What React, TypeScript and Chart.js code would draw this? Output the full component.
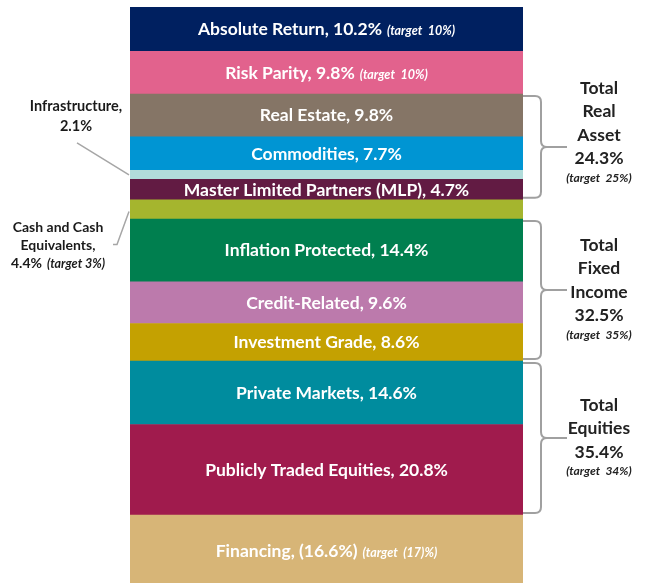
import React, { useEffect, useRef } from "react";
import { Chart, registerables } from "chart.js";

Chart.register(...registerables);

// Top-to-bottom order, as in the picture
const categories = [
  "Absolute Return",
  "Risk Parity",
  "Real Estate",
  "Commodities",
  "Infrastructure",
  "Master Limited Partners (MLP)",
  "Cash and Cash Equivalents",
  "Inflation Protected",
  "Credit-Related",
  "Investment Grade",
  "Private Markets",
  "Publicly Traded Equities",
  "Financing",
];
const allocations = [10.2, 9.8, 9.8, 7.7, 2.1, 4.7, 4.4, 14.4, 9.6, 8.6, 14.6, 20.8, -16.6];
const targets = ["10%", "10%", "", "", "", "", "3%", "", "", "", "", "", "(17)%"];
const colors = [
  "#002060",
  "#E2628D",
  "#857566",
  "#0095D3",
  "#B1DCDA",
  "#621B43",
  "#A5B52E",
  "#007F4F",
  "#BC7AAC",
  "#C4A101",
  "#008C9E",
  "#A01B4D",
  "#D7B577",
];

const outsideCategories = ["Infrastructure", "Cash and Cash Equivalents"];
const outsideNameLines = [["Infrastructure,"], ["Cash and Cash", "Equivalents,"]];

const groupNameLines = [
  ["Total", "Real", "Asset"],
  ["Total", "Fixed", "Income"],
  ["Total", "Equities"],
];
const groupTotals = ["24.3%", "32.5%", "35.4%"];
const groupTargets = ["25%", "35%", "34%"];
const groupFirst = ["Real Estate", "Inflation Protected", "Private Markets"];
const groupLast = ["Master Limited Partners (MLP)", "Investment Grade", "Publicly Traded Equities"];

const yMin = -15.6;
const yMax = 116.7;

const FONT = "Lato, 'Open Sans', sans-serif";

function fmtValue(v: number) {
  return v < 0 ? `(${Math.abs(v).toFixed(1)}%)` : `${v.toFixed(1)}%`;
}

function barPixels(chart: any, name: string) {
  const dsIndex = chart.data.datasets.findIndex((d: any) => d.label === name);
  const el: any = chart.getDatasetMeta(dsIndex).data[0];
  const p = el.getProps(["x", "y", "base", "width"], true);
  const top = Math.min(p.y, p.base);
  const bottom = Math.max(p.y, p.base);
  return { left: p.x - p.width / 2, right: p.x + p.width / 2, cx: p.x, top, bottom, cy: (top + bottom) / 2 };
}

function drawMixed(ctx: CanvasRenderingContext2D, main: string, tgt: string, cx: number, cy: number, mainFont: string, tgtFont: string, color: string) {
  ctx.fillStyle = color;
  ctx.textBaseline = "alphabetic";
  ctx.font = mainFont;
  const w1 = ctx.measureText(main).width;
  let w2 = 0;
  const gap = tgt ? 5 : 0;
  if (tgt) {
    ctx.font = tgtFont;
    w2 = ctx.measureText(tgt).width;
  }
  const start = cx - (w1 + gap + w2) / 2;
  ctx.textAlign = "left";
  ctx.font = mainFont;
  const base = cy + 6;
  ctx.fillText(main, start, base);
  if (tgt) {
    ctx.font = tgtFont;
    ctx.fillText(tgt, start + w1 + gap, base);
  }
}

const labelPlugin = {
  id: "allocationLabels",
  afterDatasetsDraw(chart: any) {
    const ctx: CanvasRenderingContext2D = chart.ctx;
    ctx.save();
    const mainFont = `bold 17.5px ${FONT}`;
    const tgtFont = `italic bold 12.5px ${FONT}`;

    // in-bar labels
    categories.forEach((name, i) => {
      if (outsideCategories.includes(name)) return;
      const b = barPixels(chart, name);
      const t = targets[i] ? `(target  ${targets[i]})` : "";
      drawMixed(ctx, `${name}, ${fmtValue(allocations[i])}`, t, b.cx, b.cy, mainFont, tgtFont, "#ffffff");
    });

    // outside labels with leader lines
    const textColor = "#1a1a1a";
    const lineColor = "#a6a6a6";
    {
      const i = categories.indexOf("Infrastructure");
      const b = barPixels(chart, "Infrastructure");
      const tx = b.left - 54;
      ctx.font = `bold 14.5px ${FONT}`;
      ctx.fillStyle = textColor;
      ctx.textAlign = "center";
      ctx.textBaseline = "middle";
      ctx.fillText(outsideNameLines[0][0], tx, b.cy - 69);
      ctx.fillText(fmtValue(allocations[i]), tx, b.cy - 49);
      ctx.strokeStyle = lineColor;
      ctx.lineWidth = 1.5;
      ctx.beginPath();
      ctx.moveTo(tx + 1, b.cy - 32);
      ctx.lineTo(b.left - 1, b.cy);
      ctx.stroke();
    }
    {
      const i = categories.indexOf("Cash and Cash Equivalents");
      const b = barPixels(chart, "Cash and Cash Equivalents");
      const tx = b.left - 72;
      ctx.font = `bold 14px ${FONT}`;
      ctx.fillStyle = textColor;
      ctx.textAlign = "center";
      ctx.textBaseline = "middle";
      ctx.fillText(outsideNameLines[1][0], tx, b.cy + 18);
      ctx.fillText(outsideNameLines[1][1], tx, b.cy + 36);
      drawMixed(ctx, fmtValue(allocations[i]), `(target ${targets[i]})`, tx, b.cy + 53, `bold 14px ${FONT}`, `italic bold 12.5px ${FONT}`, textColor);
      ctx.strokeStyle = lineColor;
      ctx.lineWidth = 1.5;
      ctx.beginPath();
      ctx.moveTo(b.left - 17, b.cy + 35);
      ctx.lineTo(b.left - 13, b.cy + 35);
      ctx.lineTo(b.left - 1, b.cy + 2);
      ctx.stroke();
    }

    // group brackets
    groupNameLines.forEach((lines, g) => {
      const a = barPixels(chart, groupFirst[g]);
      const z = barPixels(chart, groupLast[g]);
      const x0 = a.right;
      const top = a.top + 2;
      const bottom = z.bottom - 2;
      const mid = (top + bottom) / 2;
      const xv = x0 + 18;
      const r = 6;
      const tip = x0 + 44;
      ctx.strokeStyle = "#a0a0a0";
      ctx.lineWidth = 2;
      ctx.beginPath();
      ctx.moveTo(x0, top);
      ctx.lineTo(xv - r, top);
      ctx.quadraticCurveTo(xv, top, xv, top + r);
      ctx.lineTo(xv, mid - r);
      ctx.quadraticCurveTo(xv, mid, xv + r, mid);
      ctx.lineTo(tip, mid);
      ctx.moveTo(xv + r, mid);
      ctx.quadraticCurveTo(xv, mid, xv, mid + r);
      ctx.lineTo(xv, bottom - r);
      ctx.quadraticCurveTo(xv, bottom, xv - r, bottom);
      ctx.lineTo(x0, bottom);
      ctx.stroke();

      const allLines = [...lines, groupTotals[g]];
      const lh = 23.5;
      const tgtGap = 19;
      const span = (allLines.length - 1) * lh + tgtGap;
      const shift = g === 0 ? -14 : 0;
      const firstY = mid + shift - span / 2;
      const cx = x0 + 76;
      ctx.fillStyle = "#222222";
      ctx.textAlign = "center";
      ctx.textBaseline = "middle";
      ctx.font = `bold 17.5px ${FONT}`;
      allLines.forEach((s, k) => ctx.fillText(s, cx, firstY + k * lh));
      ctx.font = `italic bold 12px ${FONT}`;
      ctx.fillText(`(target  ${groupTargets[g]})`, cx, firstY + (allLines.length - 1) * lh + tgtGap);
    });
    ctx.restore();
  },
};

export default function App() {
  const ref = useRef<HTMLCanvasElement | null>(null);
  useEffect(() => {
    if (!ref.current) return;
    const order = categories.map((_, i) => i).reverse();
    const chart = new Chart(ref.current, {
      type: "bar",
      data: {
        labels: ["Allocation"],
        datasets: order.map((i) => ({
          label: categories[i],
          data: [allocations[i]],
          backgroundColor: colors[i],
          borderWidth: 0,
          barPercentage: 1,
          categoryPercentage: 1,
        })),
      },
      options: {
        responsive: false,
        animation: false,
        layout: { padding: { left: 130, right: 127, top: 7, bottom: 0 } },
        scales: {
          x: { stacked: true, display: false },
          y: { stacked: true, display: false, min: yMin, max: yMax },
        },
        plugins: { legend: { display: false }, tooltip: { enabled: false } },
      },
      plugins: [labelPlugin],
    });
    return () => chart.destroy();
  }, []);
  return (
    <div style={{ position: "absolute", left: 0, top: 0, width: 650, height: 583, background: "#fff" }}>
      <canvas ref={ref} width={650} height={583} style={{ display: "block" }} />
    </div>
  );
}
